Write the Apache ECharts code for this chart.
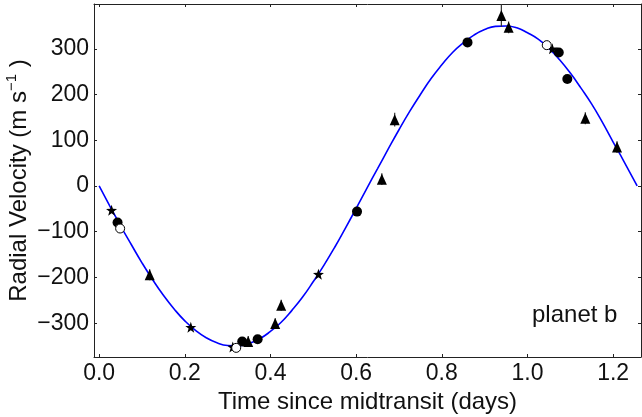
<!DOCTYPE html>
<html>
<head>
<meta charset="utf-8">
<script src="https://cdn.jsdelivr.net/npm/echarts@6/dist/echarts.min.js"></script>
<style>html,body{margin:0;padding:0;background:#fff}#c{width:642px;height:417px}</style>
</head>
<body>
<div id="c"></div>
<script>
// Model curve (days, m/s)
const curveT = [0, 0.025, 0.05, 0.075, 0.10, 0.125, 0.15, 0.175, 0.20, 0.225, 0.25, 0.275, 0.30, 0.325, 0.35, 0.375, 0.40, 0.425, 0.45, 0.475, 0.50, 0.525, 0.55, 0.575, 0.60, 0.625, 0.65, 0.675, 0.70, 0.725, 0.75, 0.775, 0.80, 0.825, 0.85, 0.875, 0.90, 0.925, 0.95, 0.975, 1.00, 1.025, 1.05, 1.075, 1.10, 1.125, 1.15, 1.175, 1.20, 1.225, 1.256];
const curveV = [0, -44, -87, -128, -168, -205, -239, -269, -295, -316, -332, -343, -349, -350, -344, -334, -318, -298, -272, -243, -209, -173, -134, -92, -49, -5, 38, 81, 123, 163, 200, 235, 265, 292, 313, 330, 342, 349, 350, 346, 335, 321, 301, 276, 247, 214, 179, 139, 96, 54, 0];
// Observations
const starT = [0.029, 0.214, 0.312, 0.512, 1.058];
const starV = [-53, -309, -352, -193, 300];
const circT = [0.043, 0.334, 0.370, 0.602, 0.860, 1.073, 1.093];
const circV = [-80, -340, -335, -56, 314, 292, 234];
const openT = [0.049, 0.320, 1.045];
const openV = [-93, -354, 308];
const triT = [0.118, 0.348, 0.411, 0.425, 0.660, 0.690, 0.939, 0.956, 1.135, 1.209];
const triV = [-194, -340, -301, -261, 15, 145, 373, 347, 148, 85];
const triErr = [12, 12, 12, 12, 13, 15, 25, 13, 13, 13];
const xTicks = [0, 0.2, 0.4, 0.6, 0.8, 1.0, 1.2];
const yTicks = [-300, -200, -100, 0, 100, 200, 300];

const FONT = 'Liberation Sans, Arial, Helvetica, sans-serif';
const zip = (a, b) => a.map((v, i) => [v, b[i]]);
const near = (v, arr) => arr.some(t => Math.abs(t - v) < 1e-6);

const chart = echarts.init(document.getElementById('c'), null, {renderer: 'canvas'});
const starPath = 'path://M0,-10 L2.35,-3.24 L9.51,-3.09 L3.8,1.24 L5.88,8.09 L0,4 L-5.88,8.09 L-3.8,1.24 L-9.51,-3.09 L-2.35,-3.24 Z';

const axisLineStyle = {color: '#222', width: 1};
chart.setOption({
  animation: false,
  backgroundColor: '#fff',
  grid: {left: 94, right: 1, top: 4, bottom: 60, containLabel: false, outerBoundsMode: 'none'},
  xAxis: [{
    type: 'value', min: -0.012, max: 1.265, splitNumber: 6,
    axisLine: {show: true, onZero: false, lineStyle: axisLineStyle},
    axisTick: {show: true, inside: true, length: 3, lineStyle: axisLineStyle},
    splitLine: {show: false},
    axisLabel: {margin: 5, fontSize: 23, fontFamily: FONT, color: '#111',
      formatter: v => near(v, xTicks) ? v.toFixed(1) : ''},
    name: 'Time since midtransit (days)', nameLocation: 'middle', nameGap: 33, nameMoveOverlap: false,
    nameTextStyle: {fontSize: 24, fontFamily: FONT, color: '#111'}
  }, {
    type: 'value', position: 'top', min: -0.012, max: 1.265, splitNumber: 6,
    axisLine: {show: true, onZero: false, lineStyle: axisLineStyle},
    axisTick: {show: true, inside: true, length: 3, lineStyle: axisLineStyle},
    splitLine: {show: false}, axisLabel: {show: false}
  }],
  yAxis: [{
    type: 'value', min: -374, max: 398, splitNumber: 8,
    axisLine: {show: true, onZero: false, lineStyle: axisLineStyle},
    axisTick: {show: true, inside: true, length: 3, lineStyle: axisLineStyle},
    splitLine: {show: false},
    axisLabel: {margin: 5, fontSize: 23, fontFamily: FONT, color: '#111',
      formatter: v => near(v, yTicks) ? String(v).replace('-', '\u2212') : ''},
    name: '{a|Radial Velocity (m s}{b|\u22121}{a| )}', nameLocation: 'middle', nameGap: 60, nameMoveOverlap: false,
    nameTextStyle: {fontSize: 24, fontFamily: FONT, color: '#111',
      rich: {a: {fontSize: 24, fontFamily: FONT, color: '#111', lineHeight: 30},
             b: {fontSize: 15, fontFamily: FONT, color: '#111', verticalAlign: 'top'}}}
  }, {
    type: 'value', position: 'right', min: -374, max: 398, splitNumber: 8,
    axisLine: {show: true, onZero: false, lineStyle: axisLineStyle},
    axisTick: {show: true, inside: true, length: 3, lineStyle: axisLineStyle},
    splitLine: {show: false}, axisLabel: {show: false}
  }],
  graphic: [{
    type: 'text', left: 532, top: 303, z: 100,
    style: {text: 'planet b', font: '24px ' + FONT, fill: '#111'}
  }],
  series: [{
    type: 'line', data: zip(curveT, curveV), smooth: true, symbol: 'none',
    lineStyle: {color: '#0000ff', width: 1.6}, z: 2, clip: true
  }, {
    type: 'custom', z: 3, clip: true,
    data: triT.map((t, i) => [t, triV[i] - triErr[i], triV[i] + triErr[i]]),
    renderItem: (params, api) => {
      const p1 = api.coord([api.value(0), api.value(1)]);
      const p2 = api.coord([api.value(0), api.value(2)]);
      return {type: 'line', shape: {x1: p1[0], y1: p1[1], x2: p2[0], y2: p2[1]},
              style: {stroke: '#333', lineWidth: 1.2}};
    }
  }, {
    type: 'scatter', data: zip(triT, triV), symbol: 'triangle', symbolSize: [10, 11],
    itemStyle: {color: '#000', opacity: 1}, z: 4
  }, {
    type: 'scatter', data: zip(circT, circV), symbol: 'circle', symbolSize: 10,
    itemStyle: {color: '#000', opacity: 1}, z: 4
  }, {
    type: 'scatter', data: zip(starT, starV), symbol: starPath, symbolSize: 11,
    itemStyle: {color: '#000', opacity: 1}, z: 5
  }, {
    type: 'scatter', data: zip(openT, openV), symbol: 'circle', symbolSize: 9,
    itemStyle: {color: '#fff', borderColor: '#000', borderWidth: 1, opacity: 1}, z: 5
  }]
});
</script>
</body>
</html>
